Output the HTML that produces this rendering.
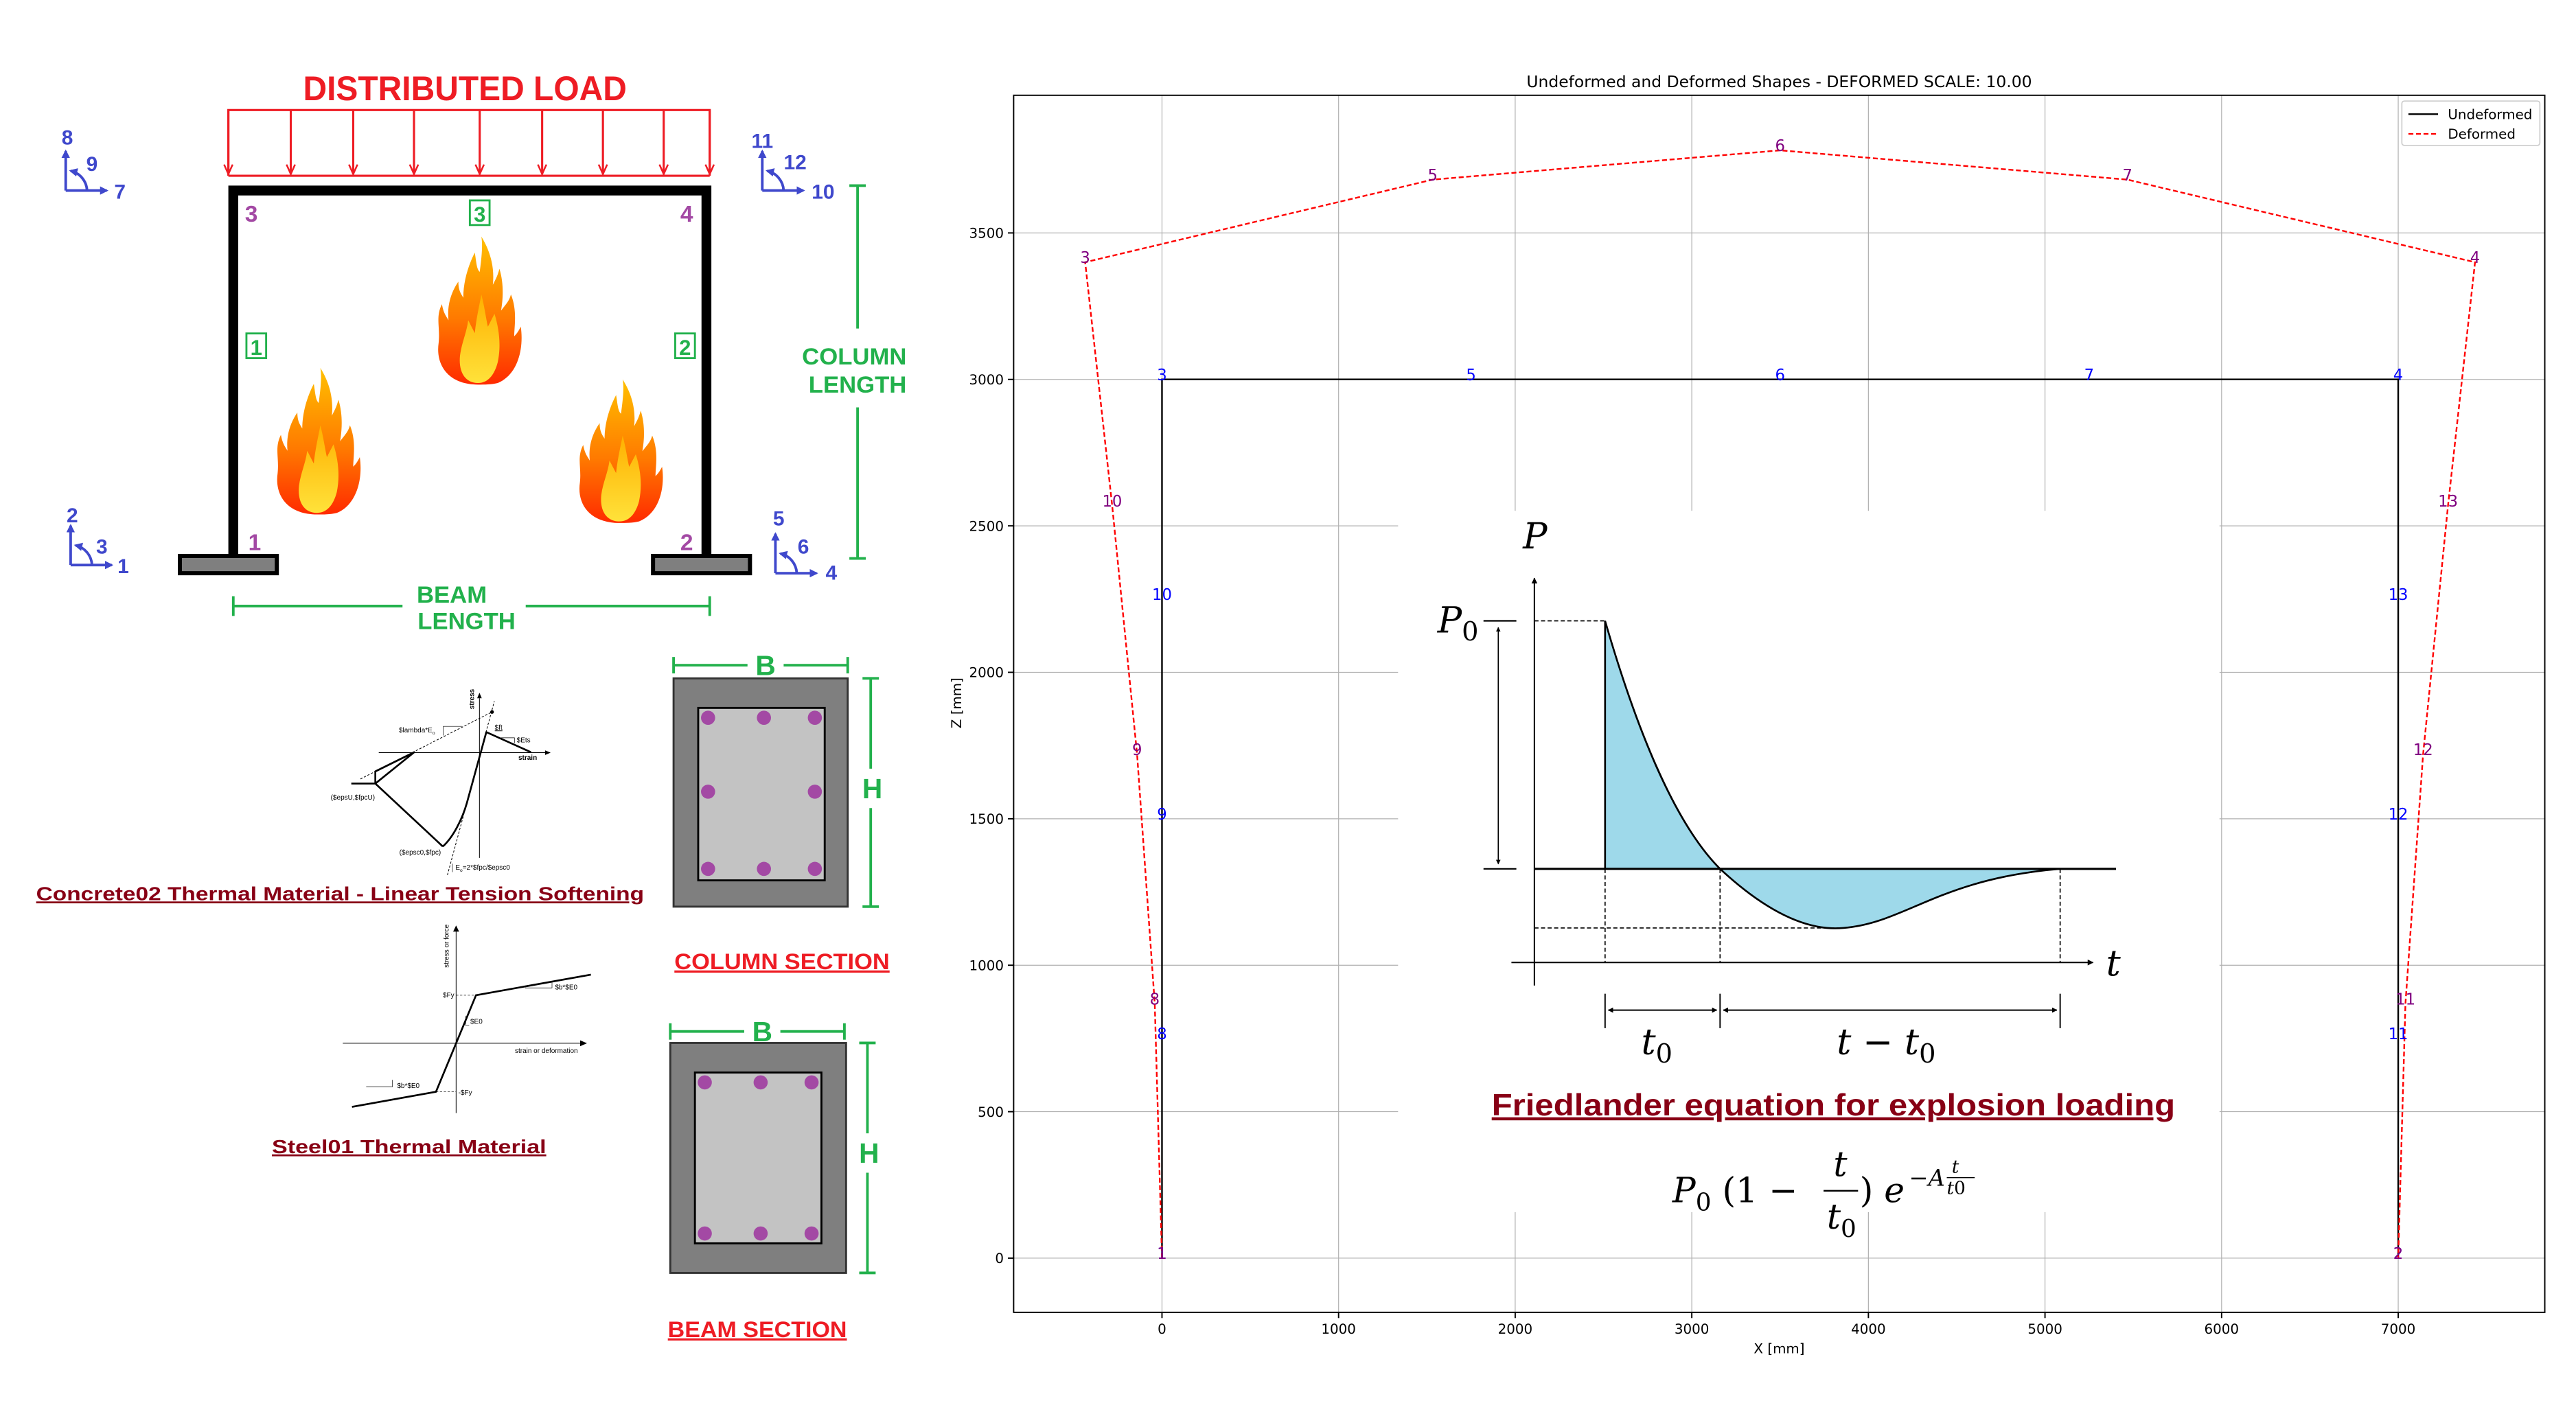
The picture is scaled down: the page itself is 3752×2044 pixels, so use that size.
<!DOCTYPE html>
<html><head><meta charset="utf-8"><style>
html,body{margin:0;padding:0;background:#fff;}
svg{display:block;}
.nar{font-family:"Liberation Sans Narrow","Liberation Sans",sans-serif;font-weight:bold;}
.dv{font-family:"DejaVu Sans","Liberation Sans",sans-serif;}
.ser{font-family:"DejaVu Serif","Liberation Serif",serif;font-style:italic;}
.ar{font-family:"Liberation Sans",Arial,sans-serif;}
</style></head><body>
<svg id="root" xmlns="http://www.w3.org/2000/svg" width="3752" height="2044" viewBox="0 0 1568 854.2">
<defs>
<linearGradient id="fl" x1="0" y1="1" x2="0" y2="0">
<stop offset="0" stop-color="#ff2a00"/><stop offset="0.45" stop-color="#ff7a00"/><stop offset="1" stop-color="#ffc000"/></linearGradient>
<linearGradient id="fi" x1="0" y1="1" x2="0" y2="0">
<stop offset="0" stop-color="#ffe23a"/><stop offset="1" stop-color="#ffb000"/></linearGradient>
<marker id="ab" viewBox="0 0 10 10" refX="9" refY="5" markerWidth="4" markerHeight="4" orient="auto-start-reverse"><path d="M0,0L10,5L0,10z" fill="#000"/></marker>
<marker id="abl" viewBox="0 0 10 10" refX="8" refY="5" markerWidth="3.2" markerHeight="3.2" orient="auto-start-reverse"><path d="M0,0L10,5L0,10z" fill="#3f48cc"/></marker>
<marker id="ar" viewBox="0 0 10 10" refX="9" refY="5" markerWidth="5" markerHeight="5" orient="auto"><path d="M0,1L9,5L0,9" fill="none" stroke="#ee1c24" stroke-width="1.6"/></marker>
<path id="flame" d="M28,92 C10,92 2,80 4,66 C5,56 2,50 6,42 C7,48 9,50 10,52 C9,42 12,34 16,28 C16,34 18,36 19,38 C19,28 22,18 26,10 C27,16 27,20 29,22 C30,14 31,6 30,0 C36,10 38,20 37,30 C39,26 40,24 41,20 C44,30 43,40 42,46 C45,42 47,40 48,36 C52,46 50,56 50,62 C52,60 53,58 54,56 C56,70 52,86 40,91 C36,92 32,92 28,92 Z"/>
<path id="flamein" d="M28,91 C20,91 16,84 17,74 C18,66 21,60 22,52 C24,56 25,58 26,60 C27,50 29,42 30,36 C32,44 33,52 34,56 C36,52 37,50 38,48 C41,58 42,68 40,78 C38,86 34,91 28,91 Z"/>
</defs>
<rect x="0" y="0" width="1568" height="854.2" fill="#fff"/>

<g>
<text class="nar" x="283" y="61" font-size="21" fill="#ee1c24" text-anchor="middle" textLength="197" lengthAdjust="spacingAndGlyphs">DISTRIBUTED LOAD</text>
<g stroke="#ee1c24" stroke-width="1.3" fill="none">
<polyline points="139,107 139,67 432,67 432,107"/>
<line x1="139" y1="107" x2="432" y2="107"/>
<line x1="139" y1="67" x2="139" y2="106" marker-end="url(#ar)"/>
<line x1="177" y1="67" x2="177" y2="106" marker-end="url(#ar)"/>
<line x1="215" y1="67" x2="215" y2="106" marker-end="url(#ar)"/>
<line x1="252" y1="67" x2="252" y2="106" marker-end="url(#ar)"/>
<line x1="292" y1="67" x2="292" y2="106" marker-end="url(#ar)"/>
<line x1="330" y1="67" x2="330" y2="106" marker-end="url(#ar)"/>
<line x1="367" y1="67" x2="367" y2="106" marker-end="url(#ar)"/>
<line x1="404" y1="67" x2="404" y2="106" marker-end="url(#ar)"/>
<line x1="432" y1="67" x2="432" y2="106" marker-end="url(#ar)"/>
</g>
<g stroke="#000" stroke-width="6" fill="none">
<polyline points="142,340 142,116 430,116 430,340"/>
</g>
<rect x="109.5" y="338.5" width="59" height="10.5" fill="#7f7f7f" stroke="#000" stroke-width="2.5"/>
<rect x="397.5" y="338.5" width="59" height="10.5" fill="#7f7f7f" stroke="#000" stroke-width="2.5"/>
<g class="nar" font-size="14" fill="#a349a4" text-anchor="middle">
<text x="153" y="135">3</text>
<text x="418" y="135">4</text>
<text x="155" y="335">1</text>
<text x="418" y="335">2</text>
</g>
<g fill="none" stroke="#22b14c" stroke-width="1.2">
<rect x="286" y="122" width="12" height="15"/>
<rect x="150" y="203" width="12" height="15"/>
<rect x="411" y="203" width="12" height="15"/>
</g>
<g class="nar" font-size="13" fill="#22b14c" text-anchor="middle">
<text x="292" y="135">3</text>
<text x="156" y="216">1</text>
<text x="417" y="216">2</text>
</g>
<g transform="translate(263,144) scale(1.0,0.98)"><use href="#flame" fill="url(#fl)"/><use href="#flamein" fill="url(#fi)"/></g>
<g transform="translate(165,224) scale(1.0,0.97)"><use href="#flame" fill="url(#fl)"/><use href="#flamein" fill="url(#fi)"/></g>
<g transform="translate(349,231) scale(1.0,0.95)"><use href="#flame" fill="url(#fl)"/><use href="#flamein" fill="url(#fi)"/></g>
<g id="dofs"></g>
<g stroke="#22b14c" stroke-width="1.6">
<line x1="522" y1="113" x2="522" y2="200"/><line x1="522" y1="248" x2="522" y2="340"/>
<line x1="517" y1="113" x2="527" y2="113"/><line x1="517" y1="340" x2="527" y2="340"/>
</g>
<text class="nar" x="520" y="222" font-size="14.5" fill="#22b14c" text-anchor="middle">COLUMN</text>
<text class="nar" x="522" y="239" font-size="14.5" fill="#22b14c" text-anchor="middle">LENGTH</text>
<g stroke="#22b14c" stroke-width="1.6">
<line x1="142" y1="369" x2="245" y2="369"/><line x1="320" y1="369" x2="432" y2="369"/>
<line x1="142" y1="363" x2="142" y2="375"/><line x1="432" y1="363" x2="432" y2="375"/>
</g>
<text class="nar" x="275" y="367" font-size="14.5" fill="#22b14c" text-anchor="middle">BEAM</text>
<text class="nar" x="284" y="383" font-size="14.5" fill="#22b14c" text-anchor="middle">LENGTH</text>
</g>

<g>
<g stroke="#22b14c" stroke-width="1.6"><line x1="410" y1="405" x2="455" y2="405"/><line x1="477" y1="405" x2="516" y2="405"/><line x1="410" y1="400" x2="410" y2="410"/><line x1="516" y1="400" x2="516" y2="410"/>
<line x1="530" y1="413" x2="530" y2="468"/><line x1="530" y1="492" x2="530" y2="552"/><line x1="525" y1="413" x2="535" y2="413"/><line x1="525" y1="552" x2="535" y2="552"/></g>
<text class="nar" x="466" y="411" font-size="17" fill="#22b14c" text-anchor="middle">B</text>
<text class="nar" x="531" y="486" font-size="17" fill="#22b14c" text-anchor="middle">H</text>
<rect x="410" y="413" width="106" height="139" fill="#7f7f7f" stroke="#333" stroke-width="1.2"/>
<rect x="425" y="431" width="77" height="105" fill="#c3c3c3" stroke="#000" stroke-width="1.2"/>
<g fill="#a349a4"><circle cx="431" cy="437" r="4.3"/><circle cx="465" cy="437" r="4.3"/><circle cx="496" cy="437" r="4.3"/><circle cx="431" cy="482" r="4.3"/><circle cx="496" cy="482" r="4.3"/><circle cx="431" cy="529" r="4.3"/><circle cx="465" cy="529" r="4.3"/><circle cx="496" cy="529" r="4.3"/></g>
<text class="ar" x="476" y="590" font-size="13.5" font-weight="bold" fill="#ee1c24" text-anchor="middle" text-decoration="underline" textLength="131" lengthAdjust="spacingAndGlyphs">COLUMN SECTION</text>
</g>
<g>
<g stroke="#22b14c" stroke-width="1.6"><line x1="408" y1="628" x2="453" y2="628"/><line x1="475" y1="628" x2="514" y2="628"/><line x1="408" y1="623" x2="408" y2="633"/><line x1="514" y1="623" x2="514" y2="633"/>
<line x1="528" y1="635" x2="528" y2="690"/><line x1="528" y1="714" x2="528" y2="775"/><line x1="523" y1="635" x2="533" y2="635"/><line x1="523" y1="775" x2="533" y2="775"/></g>
<text class="nar" x="464" y="634" font-size="17" fill="#22b14c" text-anchor="middle">B</text>
<text class="nar" x="529" y="708" font-size="17" fill="#22b14c" text-anchor="middle">H</text>
<rect x="408" y="635" width="107" height="140" fill="#7f7f7f" stroke="#333" stroke-width="1.2"/>
<rect x="423" y="653" width="77" height="104" fill="#c3c3c3" stroke="#000" stroke-width="1.2"/>
<g fill="#a349a4"><circle cx="429" cy="659" r="4.3"/><circle cx="463" cy="659" r="4.3"/><circle cx="494" cy="659" r="4.3"/><circle cx="429" cy="751" r="4.3"/><circle cx="463" cy="751" r="4.3"/><circle cx="494" cy="751" r="4.3"/></g>
<text class="ar" x="461" y="814" font-size="13.5" font-weight="bold" fill="#ee1c24" text-anchor="middle" text-decoration="underline" textLength="109" lengthAdjust="spacingAndGlyphs">BEAM SECTION</text>
</g>

<g transform="translate(200.6,409.5) scale(0.1393)">
<line x1="655" y1="810" x2="655" y2="112" stroke="#000" stroke-width="3"/><path d="M645,112 L655,88 L665,112Z"/>
<line x1="215" y1="350" x2="945" y2="350" stroke="#000" stroke-width="3"/><path d="M942,340 L966,350 L942,360Z"/>
<text class="ar" transform="translate(632,160) rotate(-90)" font-size="30" font-weight="bold">stress</text>
<text class="ar" x="825" y="382" font-size="30" font-weight="bold">strain</text>
<g stroke="#000" stroke-width="3" stroke-dasharray="10,7" fill="none"><line x1="135" y1="465" x2="710" y2="172"/><line x1="515" y1="885" x2="720" y2="125"/></g>
<circle cx="710" cy="172" r="8"/>
<g stroke="#000" stroke-width="8" fill="none" stroke-linejoin="round">
<polyline points="95,485 200,485 495,760"/>
<path d="M495,760 C540,720 580,640 600,570 L685,260 L880,348"/>
<polyline points="200,485 200,432 370,348 200,485"/>
</g>
<g stroke="#000" stroke-width="2" fill="none"><polyline points="497,275 497,235 580,235"/><polyline points="750,285 808,285 808,308"/><polyline points="537,835 537,872"/></g>
<g class="ar" font-size="30">
<text x="303" y="262">$lambda*E<tspan font-size="20" dy="8">o</tspan></text>
<text x="722" y="250" text-decoration="underline">$ft</text>
<text x="818" y="305">$Ets</text>
<text x="5" y="555">($epsU,$fpcU)</text>
<text x="305" y="795">($epsc0,$fpc)</text>
<text x="550" y="862">E<tspan font-size="20" dy="8">o</tspan><tspan dy="-8">=2*$fpc/$epsc0</tspan></text>
</g>
</g>
<text class="ar" x="207" y="548" font-size="11.5" font-weight="bold" fill="#880015" text-anchor="middle" text-decoration="underline" textLength="370" lengthAdjust="spacingAndGlyphs">Concrete02 Thermal Material - Linear Tension Softening</text>

<g transform="translate(200.6,551.6) scale(0.1393)">
<line x1="553" y1="905" x2="553" y2="110" stroke="#000" stroke-width="3"/><path d="M540,112 L553,85 L566,112Z"/>
<line x1="58" y1="600" x2="1100" y2="600" stroke="#000" stroke-width="3"/><path d="M1095,587 L1125,600 L1095,613Z"/>
<g stroke="#000" stroke-width="2" stroke-dasharray="10,7"><line x1="465" y1="812" x2="553" y2="812"/><line x1="553" y1="390" x2="640" y2="390"/></g>
<polyline points="98,878 465,812 553,600 640,390 1142,300" stroke="#000" stroke-width="8" fill="none"/>
<g stroke="#000" stroke-width="2" fill="none"><polyline points="595,480 595,522 610,522"/><polyline points="855,358 972,358 972,335"/><polyline points="160,790 275,790 275,760"/></g>
<g class="ar" font-size="30">
<text x="545" y="400" text-anchor="end">$Fy</text>
<text x="563" y="826">-$Fy</text>
<text x="615" y="515">$E0</text>
<text x="985" y="365">$b*$E0</text>
<text x="295" y="795">$b*$E0</text>
<text x="810" y="642">strain or deformation</text>
<text transform="translate(520,270) rotate(-90)">stress or force</text>
</g>
</g>
<text class="ar" x="249" y="702" font-size="11.5" font-weight="bold" fill="#880015" text-anchor="middle" text-decoration="underline" textLength="167" lengthAdjust="spacingAndGlyphs">Steel01 Thermal Material</text>

<g id="chart"></g>
</svg>
<script>
// ---- chart data ----
const xTicks = [0,1000,2000,3000,4000,5000,6000,7000];
const yTicks = [0,500,1000,1500,2000,2500,3000,3500];
const undefNodes = ["1","8","9","10","3","5","6","7","4","13","12","11","2"];
const undefX = [0,0,0,0,0,1750,3500,5250,7000,7000,7000,7000,7000];
const undefZ = [0,750,1500,2250,3000,3000,3000,3000,3000,2250,1500,750,0];
const defX = [0,-41,-141,-282,-435,1533,3500,5467,7435,7282,7141,7041,7000];
const defZ = [0,869,1720,2569,3400,3682,3782,3682,3400,2569,1720,869,0];
const legendLabels = ["Undeformed","Deformed"];

const NS="http://www.w3.org/2000/svg";
const AX={l:617,r:1549,t:58,b:799};
const XMIN=-840, XMAX=7830, YMIN=-185, YMAX=3970;
function sx(v){return AX.l+(v-XMIN)/(XMAX-XMIN)*(AX.r-AX.l);}
function sy(v){return AX.b-(v-YMIN)/(YMAX-YMIN)*(AX.b-AX.t);}
function mk(tag,attrs,parent){const e=document.createElementNS(NS,tag);for(const k in attrs)e.setAttribute(k,attrs[k]);parent.appendChild(e);return e;}
const ch=document.getElementById('chart');

xTicks.forEach(v=>{const g=mk('line',{x1:sx(v),x2:sx(v),y1:AX.t,y2:AX.b,stroke:'#b0b0b0','stroke-width':0.5},ch);

});
yTicks.forEach(v=>{const g=mk('line',{x1:AX.l,x2:AX.r,y1:sy(v),y2:sy(v),stroke:'#b0b0b0','stroke-width':0.5},ch);

});

const ins=mk('g',{},ch);


ins.innerHTML=`
<rect x="851" y="311" width="500" height="427" fill="#fff"/>
<path d="M977,378 C995,440 1018,500 1047,529 L977,529Z" fill="#9ed9ea"/>
<path d="M1047,529 C1075,555 1100,567 1122,565 C1160,562 1180,535 1254,529 Z" fill="#9ed9ea"/>
<line x1="934" y1="600" x2="934" y2="352" stroke="#000" stroke-width="0.9" marker-end="url(#ab)"/>
<line x1="920" y1="586" x2="1274" y2="586" stroke="#000" stroke-width="0.9" marker-end="url(#ab)"/>
<line x1="903" y1="378" x2="923" y2="378" stroke="#000" stroke-width="0.9"/>
<line x1="903" y1="529" x2="923" y2="529" stroke="#000" stroke-width="0.9"/>
<line x1="912" y1="382" x2="912" y2="526" stroke="#000" stroke-width="0.7" marker-start="url(#ab)" marker-end="url(#ab)"/>
<line x1="934" y1="529" x2="1288" y2="529" stroke="#000" stroke-width="1.3"/>
<g stroke="#000" stroke-width="0.7" stroke-dasharray="2.5,1.5" fill="none">
<line x1="934" y1="378" x2="977" y2="378"/><line x1="934" y1="565" x2="1122" y2="565"/>
<line x1="977" y1="529" x2="977" y2="586"/><line x1="1047" y1="529" x2="1047" y2="586"/><line x1="1254" y1="529" x2="1254" y2="586"/></g>
<path d="M977,529 L977,378 C995,440 1018,500 1047,529 C1075,555 1100,567 1122,565 C1160,562 1180,535 1254,529 L1288,529" fill="none" stroke="#000" stroke-width="1.1"/>
<g stroke="#000" stroke-width="0.8"><line x1="977" y1="605" x2="977" y2="626"/><line x1="1047" y1="605" x2="1047" y2="626"/><line x1="1254" y1="605" x2="1254" y2="626"/>
<line x1="979" y1="615" x2="1045" y2="615" marker-start="url(#ab)" marker-end="url(#ab)"/><line x1="1049" y1="615" x2="1252" y2="615" marker-start="url(#ab)" marker-end="url(#ab)"/></g>
<text class="ser" x="927" y="334" font-size="22">P</text>
<text class="ser" x="875" y="385" font-size="22">P<tspan font-size="16" dy="5" font-style="normal">0</tspan></text>
<text class="ser" x="1282" y="594" font-size="22">t</text>
<text class="ser" x="999" y="642" font-size="22">t<tspan font-size="16" dy="5" font-style="normal">0</tspan></text>
<text class="ser" x="1118" y="642" font-size="22">t <tspan font-style="normal">−</tspan> t<tspan font-size="16" dy="5" font-style="normal">0</tspan></text>
<text class="ar" x="1116" y="679" font-size="18.5" font-weight="bold" fill="#880015" text-anchor="middle" text-decoration="underline" textLength="416" lengthAdjust="spacingAndGlyphs">Friedlander equation for explosion loading</text>
<text class="ser" x="1018" y="732" font-size="21">P<tspan font-size="15" dy="5" font-style="normal">0</tspan><tspan dy="-5" font-style="normal"> (1  −</tspan></text>
<text class="ser" x="1116" y="716" font-size="21">t</text>
<line x1="1110" y1="725" x2="1131" y2="725" stroke="#000" stroke-width="1"/>
<text class="ser" x="1112" y="748" font-size="21">t<tspan font-size="15" dy="5" font-style="normal">0</tspan></text>
<text class="ser" x="1132" y="732" font-size="21"><tspan font-style="normal">)</tspan> e</text>
<text class="ser" x="1162" y="722" font-size="14"><tspan font-style="normal">−</tspan>A</text>
<text class="ser" x="1188" y="714" font-size="11">t</text>
<line x1="1185" y1="717" x2="1202" y2="717" stroke="#000" stroke-width="0.6"/>
<text class="ser" x="1185" y="727" font-size="11">t<tspan font-style="normal">0</tspan></text>
`;

function pts(X,Z){return X.map((x,i)=>sx(x).toFixed(2)+','+sy(Z[i]).toFixed(2)).join(' ');}
const u=mk('polyline',{points:pts(undefX,undefZ),fill:'none',stroke:'#000','stroke-width':1},ch);


const d=mk('polyline',{points:pts(defX,defZ),fill:'none',stroke:'#ff0000','stroke-width':1,'stroke-dasharray':'3,1.6'},ch);



undefNodes.forEach((n,i)=>{
 const t=mk('text',{x:sx(undefX[i]),y:sy(undefZ[i])+0.5,'font-size':9.5,fill:'#0000ff','text-anchor':'middle',class:'dv'},ch);t.textContent=n;
 
 
 const t2=mk('text',{x:sx(defX[i]),y:sy(defZ[i])+0.5,'font-size':9.5,fill:'#800080','text-anchor':'middle',class:'dv'},ch);t2.textContent=n;
 
 
});

const fr=mk('rect',{x:AX.l,y:AX.t,width:AX.r-AX.l,height:AX.b-AX.t,fill:'none',stroke:'#000','stroke-width':0.8},ch);


xTicks.forEach(v=>{mk('line',{x1:sx(v),x2:sx(v),y1:AX.b,y2:AX.b+3.5,stroke:'#000','stroke-width':0.8},ch);
 const t=mk('text',{x:sx(v),y:AX.b+13,'font-size':8.3,'text-anchor':'middle',class:'dv'},ch);t.textContent=v;
 
 });
yTicks.forEach(v=>{mk('line',{x1:AX.l-3.5,x2:AX.l,y1:sy(v),y2:sy(v),stroke:'#000','stroke-width':0.8},ch);
 const t=mk('text',{x:AX.l-6,y:sy(v)+3,'font-size':8.3,'text-anchor':'end',class:'dv'},ch);t.textContent=v;
 
 });
const xt=mk('text',{x:(AX.l+AX.r)/2,y:824,'font-size':8.3,'text-anchor':'middle',class:'dv'},ch);xt.textContent='X [mm]';


const yt=mk('text',{transform:'translate(585,428) rotate(-90)','font-size':8.3,'text-anchor':'middle',class:'dv'},ch);yt.textContent='Z [mm]';


const tt=mk('text',{x:(AX.l+AX.r)/2,y:53,'font-size':9.8,'text-anchor':'middle',class:'dv'},ch);tt.textContent='Undeformed and Deformed Shapes - DEFORMED SCALE: 10.00';



const lg=mk('g',{},ch);


mk('rect',{x:1462,y:61.5,width:84,height:27,fill:'#fff',stroke:'#ccc','stroke-width':0.7,rx:1.5},lg);
legendLabels.forEach((lab,i)=>{
 const y=69.5+i*12;
 const ln=mk('line',{x1:1466,x2:1484,y1:y,y2:y,stroke:i?'#ff0000':'#000','stroke-width':1,'stroke-dasharray':i?'3,1.6':'none'},lg);
 
 
 const t=mk('text',{x:1490,y:y+3,'font-size':8.3,class:'dv'},lg);t.textContent=lab;
 
 
});

const dofGroups=[
 {cx:40,cy:116,labs:[["8",41,88],["9",56,104],["7",73,121]]},
 {cx:43,cy:344,labs:[["2",44,318],["3",62,337],["1",75,349]]},
 {cx:464,cy:116,labs:[["11",464,90],["12",484,103],["10",501,121]]},
 {cx:472,cy:349,labs:[["5",474,320],["6",489,337],["4",506,353]]}
];
const dg=document.getElementById('dofs');
dofGroups.forEach(g=>{
 const gg=mk('g',{stroke:'#3f48cc','stroke-width':1.6,fill:'none'},dg);
 
 
 mk('line',{x1:g.cx,y1:g.cy,x2:g.cx,y2:g.cy-24,'marker-end':'url(#abl)'},gg);
 mk('line',{x1:g.cx,y1:g.cy,x2:g.cx+25,y2:g.cy,'marker-end':'url(#abl)'},gg);
 mk('path',{d:`M${g.cx+13},${g.cy} A13,13 0 0 0 ${g.cx+3},${g.cy-12}`,'marker-end':'url(#abl)'},gg);
 g.labs.forEach(l=>{const t=mk('text',{x:l[1],y:l[2],'font-size':12.5,fill:'#3f48cc','text-anchor':'middle',class:'nar'},dg);t.textContent=l[0];
  
  });
});
</script>
</body></html>
